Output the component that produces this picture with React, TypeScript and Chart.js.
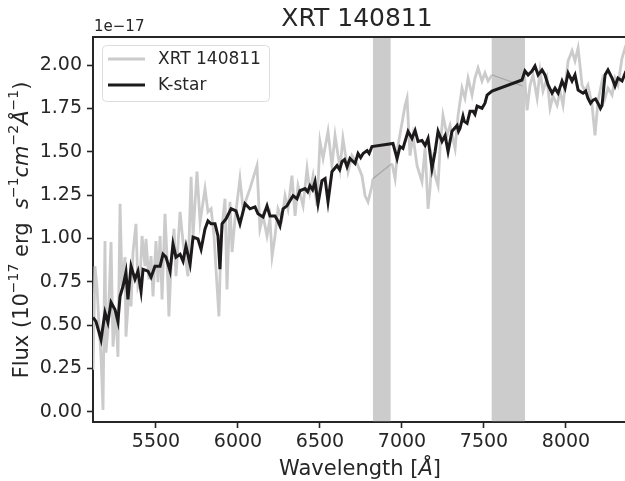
import React, { useEffect, useRef } from 'react';
import { Chart, registerables } from 'chart.js';

Chart.register(...registerables);

// K-star template spectrum (wavelength in Å, flux in 1e-17 erg/s/cm2/Å)
const starWave = [5116,5134,5165,5189,5207,5226,5250,5268,5281,5299,5317,5329,5348,5372,5390,5409,5421,5451,5470,5494,5525,5543,5561,5586,5604,5622,5647,5665,5683,5708,5726,5756,5775,5799,5817,5836,5860,5878,5890,5903,5927,5958,5988,6012,6043,6073,6104,6122,6153,6177,6195,6226,6240,6256,6275,6299,6317,6336,6360,6378,6409,6425,6439,6455,6470,6488,6512,6531,6549,6573,6604,6620,6634,6650,6665,6683,6714,6732,6748,6763,6787,6800,6817,6945,6970,6988,7006,7037,7061,7080,7098,7122,7141,7159,7183,7202,7220,7244,7263,7281,7305,7336,7345,7354,7372,7380,7397,7415,7433,7445,7458,7488,7506,7519,7549,7732,7750,7769,7793,7811,7830,7854,7872,7891,7915,7933,7952,7976,7994,8013,8037,8055,8074,8104,8120,8134,8150,8165,8180,8195,8210,8220,8238,8256,8281,8299,8317,8342,8366];
const starFlux = [0.544,0.521,0.416,0.573,0.515,0.631,0.590,0.521,0.666,0.724,0.805,0.648,0.840,0.764,0.811,0.695,0.822,0.811,0.776,0.840,0.840,0.909,0.892,0.811,0.967,0.892,0.909,0.869,0.956,0.851,1.008,0.997,0.938,1.055,1.101,1.084,1.084,1.014,0.822,1.084,1.113,1.171,1.159,1.084,1.200,1.171,1.182,1.142,1.124,1.188,1.130,1.130,1.107,1.072,1.171,1.188,1.217,1.246,1.229,1.275,1.287,1.269,1.304,1.281,1.327,1.200,1.333,1.345,1.211,1.385,1.420,1.397,1.443,1.455,1.414,1.461,1.432,1.490,1.466,1.490,1.507,1.490,1.530,1.548,1.461,1.530,1.519,1.618,1.577,1.623,1.560,1.565,1.536,1.577,1.403,1.501,1.618,1.560,1.594,1.501,1.618,1.652,1.618,1.635,1.705,1.675,1.664,1.734,1.734,1.716,1.763,1.751,1.780,1.827,1.850,1.914,1.966,1.943,1.966,1.995,1.943,1.972,1.943,1.885,1.838,1.867,1.838,1.908,1.867,1.954,1.908,1.943,1.856,1.838,1.850,1.809,1.780,1.798,1.805,1.780,1.750,1.768,1.943,1.972,1.925,1.879,1.925,1.908,1.966];

// Observed spectrum XRT 140811
const obsWave = [5116,5128,5140,5153,5165,5177,5189,5195,5207,5226,5238,5256,5268,5281,5293,5311,5317,5336,5348,5360,5378,5390,5403,5415,5433,5439,5457,5470,5482,5500,5512,5525,5537,5555,5567,5579,5592,5610,5622,5647,5665,5695,5714,5726,5750,5769,5799,5817,5836,5854,5866,5884,5897,5921,5933,5951,5964,5982,6012,6031,6073,6116,6134,6153,6177,6195,6208,6226,6244,6268,6287,6305,6329,6348,6366,6397,6421,6439,6458,6482,6500,6519,6549,6573,6592,6622,6640,6671,6695,6726,6756,6775,6793,6817,6823,6939,6958,6976,7019,7031,7049,7067,7092,7122,7141,7159,7171,7183,7202,7220,7232,7250,7275,7293,7324,7342,7366,7384,7403,7427,7445,7464,7488,7506,7525,7549,7738,7750,7763,7781,7799,7824,7842,7860,7884,7903,7921,7946,7964,7982,8013,8037,8055,8074,8098,8116,8134,8159,8177,8195,8220,8238,8256,8281,8299,8317,8342,8366];
const obsFlux = [0.242,0.840,0.724,0.492,0.317,0.010,0.985,0.341,0.474,0.979,0.376,0.590,0.317,1.200,0.724,0.892,0.434,0.706,0.608,0.921,1.084,0.724,0.764,1.014,0.840,0.997,0.764,0.898,0.666,0.985,0.747,1.014,0.648,1.142,0.898,0.550,0.840,1.055,0.782,1.153,0.979,0.782,1.356,1.014,1.385,1.095,1.287,1.153,1.171,1.014,0.822,0.550,1.014,1.229,0.706,1.211,0.921,1.113,1.345,1.171,1.287,1.420,1.055,1.130,1.014,1.113,0.898,1.014,1.171,1.113,1.246,1.171,1.362,1.130,1.304,1.188,1.403,1.269,1.362,1.188,1.560,1.461,1.618,1.420,1.594,1.403,1.577,1.385,1.478,1.432,1.362,1.246,1.211,1.304,1.345,1.432,1.345,1.536,1.768,1.809,1.478,1.594,1.420,1.327,1.519,1.171,1.287,1.461,1.362,1.304,1.519,1.710,1.594,1.652,1.519,1.710,1.867,1.809,1.925,1.827,1.925,1.983,1.908,1.954,1.908,1.943,1.879,1.908,1.739,1.885,1.943,1.809,1.966,1.850,1.925,1.751,1.821,1.768,1.850,1.768,2.024,2.082,2.024,2.099,1.885,1.850,1.885,1.768,1.594,1.792,1.908,1.809,1.867,1.827,1.925,1.885,2.041,2.117];

// Telluric bands (Å)
const bandStart = [6823, 7547];
const bandEnd = [6931, 7750];

const xTicks = [5500, 6000, 6500, 7000, 7500, 8000];
const yTicks = [0, 0.25, 0.5, 0.75, 1.0, 1.25, 1.5, 1.75, 2.0];
const xMin = 5116;
const xMax = 8366;
const yMin = -0.059;
const yMax = 2.162;

const titleText = 'XRT 140811';
const legendLabels = ['XRT 140811', 'K-star'];
const offsetText = '1e\u221217';

const FONT = "'DejaVu Sans', sans-serif";
const TXT = '#262626';
const GRAY = '#cbcbcb';
const BLACK = '#1d1a1b';

type Seg = { t: string; it?: boolean; sup?: boolean };

function drawRich(ctx: CanvasRenderingContext2D, segs: Seg[], size: number, supSize: number, raise: number, cx: number, cy: number, rot: number) {
  const fontOf = (s: Seg) => `${s.it ? 'italic ' : ''}${s.sup ? supSize : size}px ${FONT}`;
  let total = 0;
  const widths = segs.map((s) => {
    ctx.font = fontOf(s);
    const w = ctx.measureText(s.t).width;
    total += w;
    return w;
  });
  ctx.save();
  ctx.translate(cx, cy);
  ctx.rotate(rot);
  ctx.fillStyle = TXT;
  ctx.textBaseline = 'alphabetic';
  ctx.textAlign = 'left';
  let x = -total / 2;
  segs.forEach((s, i) => {
    ctx.font = fontOf(s);
    ctx.fillText(s.t, x, s.sup ? -raise : 0);
    x += widths[i];
  });
  ctx.restore();
}

const decorPlugin = {
  id: 'decor',
  beforeDatasetsDraw(chart: any) {
    const { ctx, chartArea, scales } = chart;
    ctx.save();
    ctx.fillStyle = 'rgba(128,128,128,0.4)';
    for (let i = 0; i < bandStart.length; i++) {
      const x0 = scales.x.getPixelForValue(bandStart[i]);
      const x1 = scales.x.getPixelForValue(bandEnd[i]);
      ctx.fillRect(x0, chartArea.top, x1 - x0, chartArea.bottom - chartArea.top);
    }
    ctx.restore();
  },
  afterDraw(chart: any) {
    const { ctx, chartArea } = chart;
    ctx.save();
    // top spine
    ctx.strokeStyle = TXT;
    ctx.lineWidth = 2;
    ctx.beginPath();
    ctx.moveTo(chartArea.left - 1, chartArea.top);
    ctx.lineTo(chartArea.right + 2, chartArea.top);
    ctx.stroke();

    // title
    ctx.fillStyle = TXT;
    ctx.font = `25px ${FONT}`;
    ctx.textAlign = 'center';
    ctx.textBaseline = 'alphabetic';
    ctx.fillText(titleText, 357, 26);

    // offset text
    ctx.font = `15px ${FONT}`;
    ctx.textAlign = 'left';
    ctx.fillText(offsetText, 94, 31);

    // legend
    const lx = 102.5, ly = 45.5, lw = 167, lh = 56;
    ctx.beginPath();
    ctx.roundRect(lx, ly, lw, lh, 4);
    ctx.fillStyle = 'rgba(255,255,255,0.85)';
    ctx.fill();
    ctx.strokeStyle = '#dddddd';
    ctx.lineWidth = 1;
    ctx.stroke();
    const rows = [59, 85];
    const cols = [GRAY, BLACK];
    rows.forEach((ry, i) => {
      ctx.strokeStyle = cols[i];
      ctx.lineWidth = 3;
      ctx.beginPath();
      ctx.moveTo(108, ry);
      ctx.lineTo(145, ry);
      ctx.stroke();
      ctx.fillStyle = TXT;
      ctx.font = `17px ${FONT}`;
      ctx.textBaseline = 'middle';
      ctx.textAlign = 'left';
      ctx.fillText(legendLabels[i], 158, ry + 1);
    });

    // x label
    drawRich(ctx, [{ t: 'Wavelength [' }, { t: '\u00c5', it: true }, { t: ']' }], 21, 14, 10, 360, 475, 0);
    // y label
    drawRich(
      ctx,
      [
        { t: 'Flux (10' },
        { t: '\u221217', sup: true },
        { t: ' erg  ' },
        { t: 's', it: true },
        { t: '\u22121', sup: true },
        { t: 'cm', it: true },
        { t: '\u22122', sup: true },
        { t: '\u00c5', it: true },
        { t: '\u22121', sup: true },
        { t: ')' },
      ],
      21, 14, 10, 28, 230, -Math.PI / 2
    );
    ctx.restore();
  },
};

export default function App() {
  const ref = useRef<HTMLCanvasElement | null>(null);
  useEffect(() => {
    if (!ref.current) return;
    const obsData = obsWave.map((w, i) => ({ x: w, y: obsFlux[i] }));
    const starData = starWave.map((w, i) => ({ x: w, y: starFlux[i] }));
    const gapSeg = (c: any) => c.p1.parsed.x - c.p0.parsed.x > 60;
    const chart = new Chart(ref.current, {
      type: 'line',
      data: {
        datasets: [
          {
            label: legendLabels[0],
            data: obsData,
            borderColor: GRAY,
            borderWidth: 2.8,
            pointRadius: 0,
            tension: 0,
            order: 2,
            segment: {
              borderColor: (c: any) => (gapSeg(c) ? '#a9a9a9' : undefined),
              borderWidth: (c: any) => (gapSeg(c) ? 1.3 : undefined),
            },
          } as any,
          {
            label: legendLabels[1],
            data: starData,
            borderColor: BLACK,
            borderWidth: 3,
            pointRadius: 0,
            tension: 0,
            order: 1,
          },
        ],
      },
      options: {
        responsive: false,
        animation: false,
        devicePixelRatio: 1,
        layout: { padding: { left: 0, top: 37, right: 4, bottom: 0 } },
        plugins: {
          legend: { display: false },
          title: { display: false },
          tooltip: { enabled: false },
        },
        scales: {
          x: {
            type: 'linear',
            min: xMin,
            max: xMax,
            afterBuildTicks: (s: any) => {
              s.ticks = xTicks.map((v) => ({ value: v }));
            },
            afterFit: (s: any) => {
              s.height = 59;
            },
            grid: {
              display: true,
              drawOnChartArea: false,
              drawTicks: true,
              tickLength: 6,
              tickColor: TXT,
              tickWidth: 1.6,
            },
            border: { display: true, color: TXT, width: 2 },
            ticks: {
              font: { family: FONT, size: 19 },
              color: TXT,
              padding: 3,
              maxRotation: 0,
              autoSkip: false,
              callback: (v: any) => String(v),
            },
          },
          y: {
            type: 'linear',
            min: yMin,
            max: yMax,
            afterBuildTicks: (s: any) => {
              s.ticks = yTicks.map((v) => ({ value: v }));
            },
            afterFit: (s: any) => {
              s.width = 93;
            },
            grid: {
              display: true,
              drawOnChartArea: false,
              drawTicks: true,
              tickLength: 6,
              tickColor: TXT,
              tickWidth: 1.6,
            },
            border: { display: true, color: TXT, width: 2 },
            ticks: {
              font: { family: FONT, size: 19 },
              color: TXT,
              padding: 5,
              autoSkip: false,
              callback: (v: any) => Number(v).toFixed(2),
            },
          },
        },
      },
      plugins: [decorPlugin],
    });
    return () => chart.destroy();
  }, []);
  return (
    <div style={{ position: 'absolute', left: 0, top: 0, width: 625, height: 481, overflow: 'hidden', background: '#fff' }}>
      <canvas ref={ref} width={630} height={481} style={{ display: 'block' }} />
    </div>
  );
}
